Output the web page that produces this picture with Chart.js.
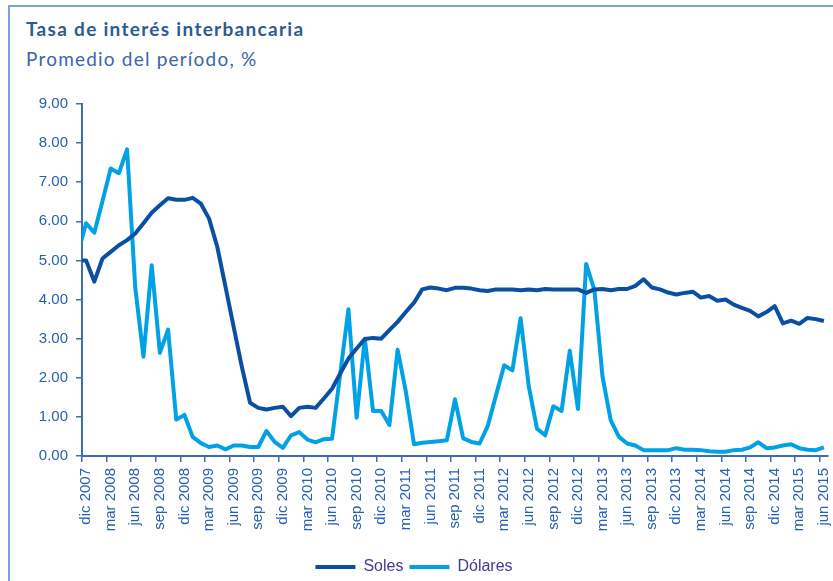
<!DOCTYPE html>
<html lang="es">
<head>
<meta charset="utf-8">
<title>Tasa de interés interbancaria</title>
<script src="https://cdn.jsdelivr.net/npm/chart.js@4.4.1/dist/chart.umd.min.js"></script>
<style>
  html, body { margin: 0; padding: 0; background: #fff; }
  .wrap { position: relative; width: 833px; height: 581px; overflow: hidden; }
  .frame { position: absolute; left: 8px; top: 5px; width: 850px; height: 620px;
           border: 2px solid #79a3dc; box-sizing: border-box; }
  .title { position: absolute; left: 26px; top: 17px; font: bold 19px Lato, sans-serif;
           letter-spacing: 1.3px; color: #2d5b91; white-space: nowrap; }
  .subtitle { position: absolute; left: 26px; top: 47px; font: 19px Lato, sans-serif;
              letter-spacing: 1.2px; color: #3a66a8; white-space: nowrap; }
  canvas { position: absolute; left: 0; top: 0; }
</style>
</head>
<body>
<div class="wrap">
  <div class="frame"></div>
  <div class="title">Tasa de interés interbancaria</div>
  <div class="subtitle">Promedio del período, %</div>
  <canvas id="chart" width="833" height="585"></canvas>
</div>
<script>
// monthly averages, nov 2007 .. jun 2015 (nov 2007 only shows as a stub at the left edge)
const monthNames = ["ene", "feb", "mar", "abr", "may", "jun", "jul", "ago", "sep", "oct", "nov", "dic"];
const months = [];
for (let k = 0; k < 92; k++) {
  months.push(monthNames[(10 + k) % 12] + " " + (2007 + Math.floor((10 + k) / 12)));
}

const soles = [
  5.00,
  5.00, 4.46, 5.05, 5.22, 5.39, 5.52, 5.69, 5.95, 6.22, 6.41,
  6.59, 6.55, 6.55, 6.60, 6.45, 6.07, 5.35, 4.33, 3.30, 2.28,
  1.36, 1.23, 1.19, 1.23, 1.26, 1.02, 1.23, 1.26, 1.23, 1.47,
  1.72, 2.11, 2.49, 2.75, 2.99, 3.02, 3.00, 3.22, 3.43, 3.68,
  3.92, 4.26, 4.31, 4.28, 4.24, 4.30, 4.30, 4.28, 4.24, 4.22,
  4.26, 4.26, 4.26, 4.24, 4.26, 4.24, 4.27, 4.26, 4.26, 4.26,
  4.26, 4.17, 4.26, 4.27, 4.24, 4.27, 4.27, 4.35, 4.52, 4.31,
  4.26, 4.18, 4.13, 4.17, 4.20, 4.05, 4.09, 3.97, 4.00, 3.87,
  3.79, 3.71, 3.57, 3.68, 3.83, 3.39, 3.46, 3.38, 3.53, 3.50,
  3.45
];

const dolares = [
  5.19,
  5.95, 5.71, 6.52, 7.35, 7.23, 7.84, 4.30, 2.54, 4.88, 2.64,
  3.23, 0.93, 1.05, 0.49, 0.33, 0.23, 0.27, 0.17, 0.27, 0.27,
  0.23, 0.23, 0.64, 0.36, 0.21, 0.53, 0.61, 0.42, 0.35, 0.43,
  0.44, 2.10, 3.75, 0.98, 3.00, 1.15, 1.15, 0.79, 2.72, 1.65,
  0.30, 0.34, 0.36, 0.38, 0.40, 1.45, 0.45, 0.36, 0.32, 0.77,
  1.55, 2.32, 2.19, 3.52, 1.78, 0.70, 0.53, 1.27, 1.15, 2.69,
  1.20, 4.91, 4.25, 2.02, 0.91, 0.49, 0.32, 0.27, 0.15, 0.15,
  0.15, 0.15, 0.20, 0.16, 0.16, 0.15, 0.12, 0.11, 0.11, 0.15,
  0.16, 0.22, 0.35, 0.20, 0.22, 0.27, 0.30, 0.20, 0.16, 0.15,
  0.22
];

const axisBlue = "#3f6db5";
const tickText = "#2760b0";
const tickFont = { family: "'Liberation Sans', Arial, sans-serif", size: 15 };

const toPoints = (arr) => arr.map((v, k) => ({ x: k, y: v }));

new Chart(document.getElementById("chart"), {
  type: "line",
  data: {
    labels: months,
    datasets: [
      {
        label: "Soles",
        data: toPoints(soles),
        borderColor: "#0b4fa2",
        backgroundColor: "#0b4fa2",
        borderWidth: 4,
        pointRadius: 0,
        tension: 0,
        borderJoinStyle: "round",
        clip: { left: 0, top: 5, right: 5, bottom: 5 },
      },
      {
        label: "Dólares",
        data: toPoints(dolares),
        borderColor: "#00a2e4",
        backgroundColor: "#00a2e4",
        borderWidth: 4,
        pointRadius: 0,
        tension: 0,
        borderJoinStyle: "round",
        clip: { left: 0, top: 5, right: 5, bottom: 5 },
      },
    ],
  },
  options: {
    responsive: false,
    animation: false,
    layout: { padding: { left: 0, right: 5, top: 104, bottom: 0 } },
    scales: {
      x: { type: "linear", min: 0.5, max: 91.5, display: false },
      x2: {
        type: "category",
        labels: months.slice(1),
        position: "bottom",
        offset: true,
        grid: {
          offset: true,
          drawOnChartArea: false,
          tickLength: 6,
          lineWidth: 1.5,
          color: (ctx) => (ctx.index % 3 === 0 ? axisBlue : "transparent"),
        },
        border: { color: axisBlue, width: 2 },
        ticks: {
          autoSkip: false,
          minRotation: 90,
          maxRotation: 90,
          padding: 6,
          color: tickText,
          font: tickFont,
          callback: function (value, index) {
            return index % 3 === 0 ? this.getLabelForValue(value) : "";
          },
        },
        afterFit: (scale) => {
          scale.height = 97;
          scale.paddingLeft = 0;
          scale.paddingRight = 0;
        },
      },
      y: {
        min: 0,
        max: 9,
        grid: { drawOnChartArea: false, tickLength: 6, lineWidth: 1.5, color: axisBlue },
        border: { color: axisBlue, width: 2 },
        ticks: {
          stepSize: 1,
          padding: 8,
          color: tickText,
          font: tickFont,
          callback: (v) => v.toFixed(2),
        },
        afterFit: (scale) => { scale.width = 82; },
      },
    },
    plugins: {
      title: { display: false },
      tooltip: { enabled: false },
      legend: {
        position: "bottom",
        labels: {
          usePointStyle: true,
          pointStyle: "line",
          pointStyleWidth: 40,
          padding: 6,
          color: "#3d3a9a",
          font: { family: "'Liberation Sans', Arial, sans-serif", size: 16 },
        },
      },
    },
  },
});
</script>
</body>
</html>
